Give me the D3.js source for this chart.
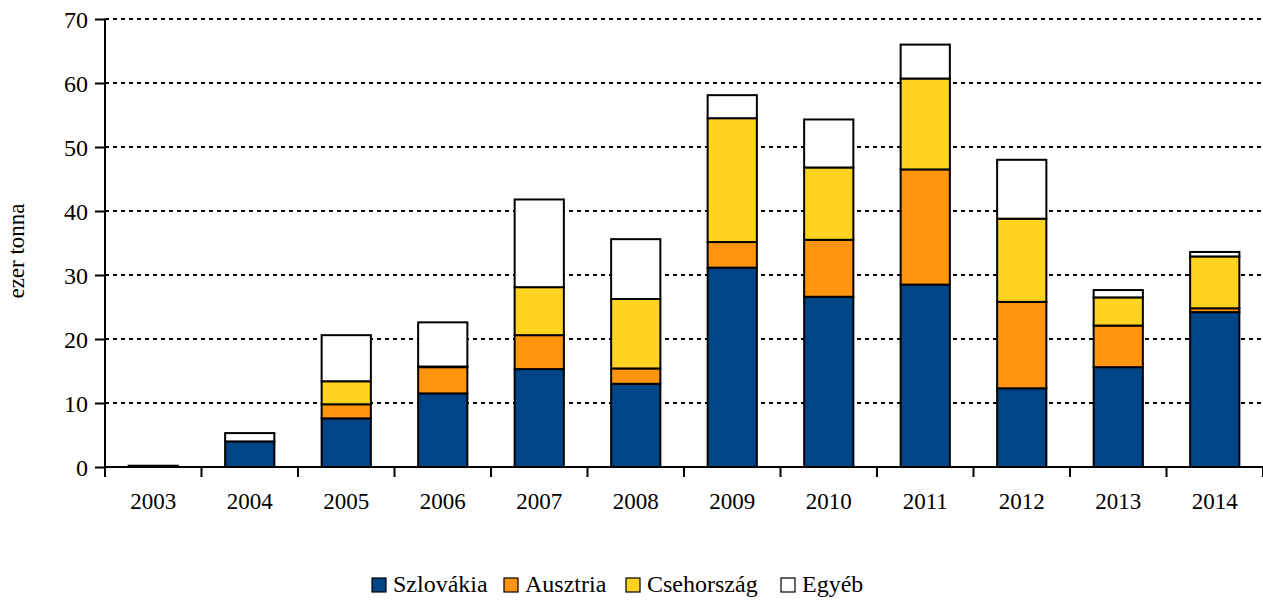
<!DOCTYPE html>
<html>
<head>
<meta charset="utf-8">
<script src="https://cdn.jsdelivr.net/npm/d3@7"></script>
<style>
html,body{margin:0;padding:0;background:#fff;}
svg{display:block;}
</style>
</head>
<body>
<svg id="chart" width="1263" height="601"></svg>
<script>
const years = ["2003","2004","2005","2006","2007","2008","2009","2010","2011","2012","2013","2014"];
const seriesNames = ["Szlovákia","Ausztria","Csehország","Egyéb"];
const szlovakia  = [0.2, 4.0, 7.6, 11.5, 15.3, 13.0, 31.15, 26.6, 28.5, 12.3, 15.6, 24.2];
const ausztria   = [0.0, 0.0, 2.2,  4.1,  5.3,  2.4,  4.0,  8.9, 18.0, 13.5,  6.5,  0.6];
const csehorszag = [0.0, 0.0, 3.6,  0.1,  7.5, 10.85, 19.35, 11.3, 14.2, 13.0,  4.4,  8.1];
const egyeb      = [0.0, 1.3, 7.2,  6.9, 13.7,  9.35, 3.6,  7.5,  5.3,  9.2,  1.15, 0.7];
const yTicks = [0,10,20,30,40,50,60,70];
const colors = ["#004586","#ff950e","#ffd320","#ffffff"];

(function(){
const FONT = "'Liberation Serif', 'Times New Roman', Times, serif";
const svg = d3.select("#chart");
const mLeft = 105, mRight = 1263, mTop = 19, mBottom = 467;

const table = years.map((yr,i)=>({year:yr, "Szlovákia":szlovakia[i], "Ausztria":ausztria[i], "Csehország":csehorszag[i], "Egyéb":egyeb[i]}));
const stacked = d3.stack().keys(seriesNames)(table);

const x = d3.scaleBand().domain(years).range([mLeft,mRight]).paddingInner(0.49).paddingOuter(0.245);
const xb = d3.scaleBand().domain(years).range([mLeft,mRight]).padding(0);
const y = d3.scaleLinear().domain([0,70]).range([mBottom,mTop]);

// grid
svg.append("g").selectAll("line").data(yTicks.filter(d=>d>0)).join("line")
  .attr("x1",mLeft).attr("x2",mRight)
  .attr("y1",d=>y(d)).attr("y2",d=>y(d))
  .attr("stroke","#000").attr("stroke-width",2).attr("stroke-dasharray","4,4");

// bars
const g = svg.append("g");
stacked.forEach((s,si)=>{
  g.append("g").selectAll("rect").data(s).join("rect")
    .attr("x",(d,i)=>x(years[i]))
    .attr("width",x.bandwidth())
    .attr("y",d=>y(d[1]))
    .attr("height",d=>Math.max(0,y(d[0])-y(d[1])))
    .attr("fill",colors[si])
    .attr("stroke","#000").attr("stroke-width",2);
});

// y axis
const yAxis = svg.append("g").attr("transform",`translate(${mLeft},0)`)
  .call(d3.axisLeft(y).tickValues(yTicks).tickSize(10).tickPadding(7));
yAxis.attr("font-family",FONT).attr("font-size",24);
yAxis.select(".domain").attr("stroke","#000").attr("stroke-width",2).attr("d",`M0,${mTop}V${mBottom}`);
yAxis.selectAll(".tick line").attr("stroke","#000").attr("stroke-width",2);
yAxis.selectAll(".tick text").style("font-family",FONT).style("font-size","24px").attr("fill","#000").attr("dy","0.34em");

// x axis
const xAxis = svg.append("g").attr("transform",`translate(0,${mBottom})`);
xAxis.append("line").attr("x1",mLeft).attr("x2",mRight).attr("stroke","#000").attr("stroke-width",2);
const bounds = years.map(d=>xb(d)).concat([mRight]);
xAxis.selectAll("line.t").data(bounds).join("line").attr("class","t")
  .attr("x1",d=>d).attr("x2",d=>d).attr("y1",0).attr("y2",10)
  .attr("stroke","#000").attr("stroke-width",2);
xAxis.selectAll("text").data(years).join("text")
  .attr("x",d=>xb(d)+xb.bandwidth()/2).attr("y",42)
  .attr("text-anchor","middle").style("font-family",FONT).style("font-size","23px").text(d=>d);

// y label
svg.append("text").attr("transform","translate(24,251) rotate(-90)")
  .attr("text-anchor","middle").style("font-family",FONT).style("font-size","23px").text("ezer tonna");

// legend
const legX = [371, 503, 625, 780];
const leg = svg.append("g");
seriesNames.forEach((n,i)=>{
  leg.append("rect").attr("x",legX[i]+1).attr("y",578).attr("width",14).attr("height",14)
    .attr("fill",colors[i]).attr("stroke","#000").attr("stroke-width",1.2);
  leg.append("text").attr("x",legX[i]+22).attr("y",592).style("font-family",FONT).style("font-size","24px").text(n);
});
})();
</script>
</body>
</html>
